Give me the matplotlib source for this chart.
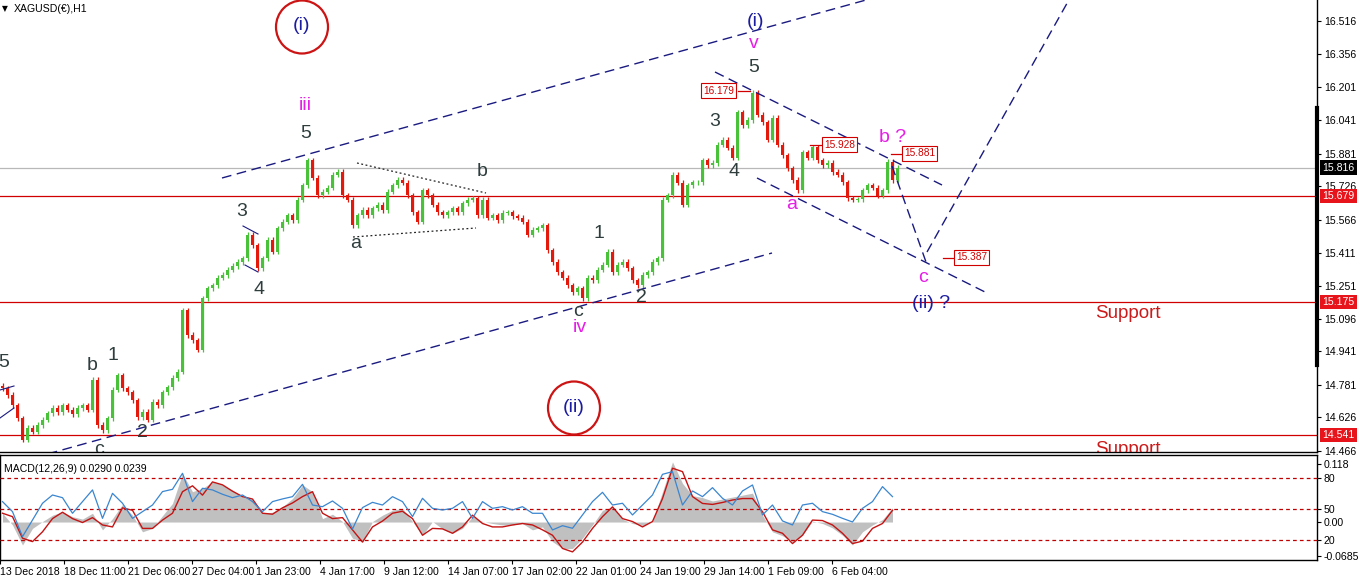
import numpy as np
import matplotlib
matplotlib.use('Agg')
import matplotlib.pyplot as plt
from matplotlib.patches import Ellipse
from matplotlib.transforms import blended_transform_factory

# ---------------- data ----------------
closes = [14.765, 14.732, 14.684, 14.622, 14.518, 14.575, 14.556, 14.589, 14.613, 14.646,
          14.670, 14.651, 14.684, 14.661, 14.641, 14.670, 14.684, 14.661, 14.804, 14.589,
          14.565, 14.622, 14.756, 14.827, 14.765, 14.746, 14.708, 14.627, 14.651, 14.613,
          14.699, 14.684, 14.746, 14.770, 14.813, 14.842, 15.137, 15.018, 14.994, 14.947,
          15.194, 15.242, 15.256, 15.290, 15.304, 15.328, 15.347, 15.366, 15.385, 15.495,
          15.447, 15.337, 15.385, 15.471, 15.414, 15.528, 15.557, 15.590, 15.566, 15.662,
          15.733, 15.852, 15.767, 15.685, 15.700, 15.719, 15.781, 15.795, 15.685, 15.662,
          15.542, 15.590, 15.614, 15.590, 15.623, 15.638, 15.614, 15.700, 15.733, 15.757,
          15.743, 15.685, 15.604, 15.557, 15.709, 15.685, 15.638, 15.604, 15.590, 15.604,
          15.623, 15.604, 15.647, 15.662, 15.671, 15.590, 15.662, 15.576, 15.590, 15.566,
          15.600, 15.604, 15.585, 15.576, 15.557, 15.495, 15.519, 15.528, 15.542, 15.423,
          15.366, 15.318, 15.290, 15.256, 15.223, 15.242, 15.194, 15.290, 15.280, 15.328,
          15.352, 15.414, 15.318, 15.352, 15.366, 15.337, 15.280, 15.256, 15.304, 15.318,
          15.366, 15.385, 15.662, 15.685, 15.781, 15.743, 15.638, 15.733, 15.747, 15.747,
          15.852, 15.828, 15.838, 15.924, 15.948, 15.910, 15.862, 16.081, 16.019, 16.043,
          16.172, 16.067, 16.033, 15.948, 16.053, 15.924, 15.876, 15.814, 15.757, 15.709,
          15.890, 15.862, 15.914, 15.852, 15.828, 15.838, 15.795, 15.781, 15.747, 15.671,
          15.662, 15.666, 15.709, 15.733, 15.719, 15.681, 15.709, 15.843, 15.757, 15.816]

price_ticks = [16.516, 16.356, 16.201, 16.041, 15.881, 15.726, 15.566, 15.411,
               15.251, 15.096, 14.941, 14.781, 14.626, 14.466]
support_levels = [15.679, 15.175, 14.541]
current_price = 15.816

date_labels = ["13 Dec 2018", "18 Dec 11:00", "21 Dec 06:00", "27 Dec 04:00",
               "1 Jan 23:00", "4 Jan 17:00", "9 Jan 12:00", "14 Jan 07:00",
               "17 Jan 02:00", "22 Jan 01:00", "24 Jan 19:00", "29 Jan 14:00",
               "1 Feb 09:00", "6 Feb 04:00"]

macd_hist = [0.018, -0.006, -0.047, -0.013, 0.001, 0.014, 0.021, 0.011, 0.006, 0.018,
             -0.016, 0.007, 0.036, 0.014, -0.020, -0.013, 0.013, 0.038, 0.099, 0.062,
             0.069, 0.082, 0.076, 0.065, 0.052, 0.046, 0.018, 0.020, 0.031, 0.048,
             0.076, 0.062, 0.007, 0.016, 0.001, -0.033, -0.040, 0.001, 0.014, 0.024,
             0.028, 0.001, -0.027, 0.001, -0.014, -0.023, -0.013, 0.011, 0.001, -0.003,
             -0.006, -0.006, -0.003, -0.016, -0.010, -0.040, -0.054, -0.054, -0.033, -0.006,
             0.024, 0.031, 0.006, -0.003, -0.007, 0.001, 0.062, 0.123, 0.079, 0.054,
             0.050, 0.043, 0.047, 0.051, 0.055, 0.059, 0.014, -0.020, -0.028, -0.040,
             -0.027, 0.002, -0.003, -0.012, -0.027, -0.047, -0.020, -0.006, 0.005, 0.029]

macd_signal = [0.018, 0.011, -0.033, -0.040, -0.020, 0.007, 0.020, 0.007, -0.001, 0.009,
               -0.006, -0.010, 0.029, 0.024, -0.013, -0.013, 0.004, 0.018, 0.062, 0.074,
               0.055, 0.082, 0.076, 0.063, 0.052, 0.047, 0.018, 0.016, 0.029, 0.039,
               0.052, 0.062, 0.018, 0.007, 0.009, -0.016, -0.041, -0.010, 0.002, 0.018,
               0.022, 0.007, -0.027, -0.013, -0.014, -0.023, -0.010, 0.014, -0.003, -0.010,
               -0.010, -0.006, -0.003, -0.006, -0.016, -0.027, -0.054, -0.061, -0.041, -0.013,
               0.011, 0.031, 0.007, 0.001, -0.010, 0.001, 0.048, 0.110, 0.103, 0.052,
               0.038, 0.036, 0.040, 0.045, 0.048, 0.048, 0.021, -0.016, -0.023, -0.044,
               -0.027, 0.004, 0.003, -0.006, -0.023, -0.044, -0.039, -0.013, -0.003, 0.0239]

osc_line = [56.8, 47.1, 22.9, 39.0, 55.2, 63.2, 60.6, 45.5, 56.8, 68.1,
            40.6, 64.8, 55.2, 40.6, 47.1, 53.5, 66.5, 68.7, 84.2, 56.8,
            69.7, 68.1, 63.9, 60.6, 63.2, 56.8, 47.1, 56.8, 59.4, 61.6,
            73.5, 53.5, 51.9, 57.4, 50.3, 30.3, 51.0, 56.1, 53.5, 61.6,
            56.8, 42.3, 60.0, 50.3, 48.7, 50.3, 56.8, 40.6, 56.8, 50.3,
            51.9, 48.7, 51.9, 45.5, 45.5, 29.4, 33.5, 31.0, 43.9, 56.8,
            65.8, 53.5, 55.2, 43.9, 53.5, 63.2, 83.2, 85.8, 53.5, 67.1,
            61.6, 70.3, 60.0, 53.5, 67.1, 72.9, 43.9, 53.5, 38.1, 34.2,
            53.5, 55.2, 47.1, 44.5, 40.6, 37.1, 50.3, 56.8, 71.3, 61.6]
osc_levels = [80, 50, 20]

macd_ticks = [0.118, 0.0, -0.0685]
macd_tick_labels = ["0.118", "0.00", "-0.0685"]

# ---------------- layout ----------------
W, H = 1360, 581
PW, PH = 1317, 452          # price panel size in px
PX_PER_BAR = 5
MACD_STEP = 2               # bars per MACD sample
AXFONT = 'Liberation Sans'
AXSIZE = 7.6
fig = plt.figure(figsize=(W / 100, H / 100), dpi=100)
fig.patch.set_facecolor('white')

ax = fig.add_axes([0, 1 - PH / H, PW / W, PH / H])
axm = fig.add_axes([0, 1 - 560 / H, PW / W, 105 / H], sharex=ax)

NAVY = '#1a1a80'
SLATE = '#2f3d3d'
MAG = '#e61ee6'
RED = '#d00000'

# ---------------- candles ----------------
c = np.array(closes)
o = np.concatenate([[c[0] + 0.01], c[:-1]])
x = np.arange(len(c))
wick = 0.012
hi = np.maximum(o, c) + wick
lo = np.minimum(o, c) - wick
up = c >= o
col = np.where(up, '#49c23a', '#e5180c')
ax.vlines(x, lo, hi, colors=col, lw=0.9, zorder=3)
ax.bar(x, c - o, bottom=o, width=0.5, color=col, lw=0, zorder=3)

ax.set_xlim(-0.5, PW / PX_PER_BAR - 0.5)
ax.set_ylim(16.615 - 0.004767 * PH, 16.615)

for lv in support_levels:
    ax.axhline(lv, color=RED, lw=0.9, zorder=2)
ax.axhline(current_price, color='#b8b8b8', lw=0.9, zorder=1)

ax.yaxis.tick_right()
ax.set_yticks(price_ticks)
ax.set_yticklabels([f"{v:.3f}" for v in price_ticks], family=AXFONT)
ax.tick_params(axis='y', direction='out', length=3, labelsize=AXSIZE, pad=2, width=0.8)
ax.tick_params(axis='x', bottom=False, labelbottom=False)
for s in ['top', 'left']:
    ax.spines[s].set_visible(False)
for s in ['right', 'bottom']:
    ax.spines[s].set_color('black')
    ax.spines[s].set_linewidth(1)

btr = blended_transform_factory(ax.transAxes, ax.transData)
ax.text(1.004, current_price, f"{current_price:.3f}", transform=btr, va='center', ha='left',
        fontsize=AXSIZE, family=AXFONT, color='white', zorder=6, clip_on=False,
        bbox=dict(boxstyle='square,pad=0.2', fc='black', ec='none'))
for lv in support_levels:
    ax.text(1.004, lv, f"{lv:.3f}", transform=btr, va='center', ha='left',
            fontsize=AXSIZE, family=AXFONT, color='white', zorder=6, clip_on=False,
            bbox=dict(boxstyle='square,pad=0.2', fc='#e8141b', ec='none'))

# ---------------- MACD panel ----------------
mx = np.arange(len(macd_hist)) * MACD_STEP
axm.fill_between(mx, 0, macd_hist, color='#c0c0c0', lw=0, zorder=1)
axm.plot(np.arange(len(macd_signal)) * MACD_STEP, macd_signal, color='#c41414', lw=1.0, zorder=3)
axm.set_ylim(-0.0776, 0.137)
for s in axm.spines.values():
    s.set_color('black')
    s.set_linewidth(1)

axr = axm.twinx()
axr.plot(np.arange(len(osc_line)) * MACD_STEP, osc_line, color='#3a86d0', lw=0.9, zorder=4)
for lv in osc_levels:
    axr.axhline(lv, color='#c00000', lw=0.9, ls=(0, (3, 2.5)), zorder=2)
axr.set_ylim(0.3, 101.9)
axr.set_yticks(osc_levels)
axr.set_yticklabels([str(v) for v in osc_levels], family=AXFONT)
axr.tick_params(axis='y', direction='out', length=3, labelsize=AXSIZE, pad=2, width=0.8)
for s in axr.spines.values():
    s.set_visible(False)

# MACD scale on the right too (twinx moved it left)
axm.yaxis.tick_right()
axm.set_yticks(macd_ticks)
axm.set_yticklabels(macd_tick_labels, family=AXFONT)
axm.tick_params(axis='y', direction='out', length=3, labelsize=AXSIZE, pad=2, width=0.8,
                left=False, labelleft=False, right=True, labelright=True)

tick_pos = [12.8 * k - 0.5 for k in range(len(date_labels))]
axm.set_xticks(tick_pos)
axm.set_xticklabels(date_labels, ha='left', family=AXFONT)
axm.tick_params(axis='x', direction='out', length=3, labelsize=AXSIZE, pad=2, width=0.8)
axm.set_xlim(-0.5, PW / PX_PER_BAR - 0.5)

axm.text(0.003, 0.87, "MACD(12,26,9) 0.0290 0.0239", transform=axm.transAxes,
         fontsize=AXSIZE, family=AXFONT, color='black', ha='left', va='center')

# ---------------- annotations (pixel placement helpers) ----------------
def pt(xp, yp):
    return xp / PW, 1 - yp / PH

def label(xp, yp, s, color=SLATE, size=14, **kw):
    ax.text(*pt(xp, yp), s, transform=ax.transAxes, ha='center', va='center',
            color=color, fontsize=size, family='Liberation Sans', clip_on=True, zorder=7, **kw)

def seg(xs, ys, **kw):
    ax.plot([v / PW for v in xs], [1 - v / PH for v in ys], transform=ax.transAxes,
            clip_on=True, zorder=5, **kw)

dash = dict(color=NAVY, lw=1.0, ls=(0, (7, 4)))
seg([222, 895], [178, -8], **dash)          # upper channel
seg([33, 772], [458, 253], **dash)          # lower channel
seg([715, 942], [72, 185], **dash)          # descending channel top
seg([757, 985], [178, 292], **dash)         # descending channel bottom
seg([892, 926], [166, 262], **dash)         # projection down
seg([927, 1070], [252, -2], **dash)         # projection up
dot = dict(color='#222222', lw=0.9, ls=(0, (1.5, 2)))
seg([357, 486], [163, 193], **dot)
seg([353, 476], [237, 228], **dot)
seg([243, 258], [226, 234], color=NAVY, lw=0.8)
seg([245, 258], [265, 272], color=NAVY, lw=0.8)
seg([0, 14], [390, 386], color=NAVY, lw=0.8)
seg([0, 14], [418, 408], color=NAVY, lw=0.8)

# circles
for cx, cy, s in [(302, 27, "(i)"), (574, 408, "(ii)")]:
    ax.add_patch(Ellipse(pt(cx, cy), 52 / PW, 53 / PH, transform=ax.transAxes,
                         fill=False, ec='#cc1414', lw=1.6, zorder=7, clip_on=False))
    label(cx, cy - 1, s, color='#1c1ca0', size=14)

label(305, 105, "iii", color=MAG)
label(306, 133, "5")
label(242, 211, "3")
label(259, 290, "4")
label(356, 244, "a")
label(482, 172, "b")
label(578, 312, "c")
label(580, 327, "iv", color=MAG)
label(599, 234, "1")
label(641, 298, "2")
label(715, 121, "3")
label(734, 172, "4")
label(754, 68, "5")
label(754, 44, "v", color=MAG)
label(756, 21, "(i)", color='#1c1ca0')
label(792, 204, "a", color=MAG)
label(893, 138, "b ?", color=MAG)
label(923, 278, "c", color=MAG)
label(931, 303, "(ii) ?", color='#1c1ca0')
label(92, 365, "b")
label(113, 356, "1")
label(99, 449, "c")
label(142, 432, "2")
label(4, 362, "5")
label(1128, 313, "Support", color='#cc1a1a', size=13.5)
label(1128, 449, "Support", color='#cc1a1a', size=13.5)

# boxed price tags
def tag(xl, yc, s, lx0, lx1):
    seg([lx0, lx1], [yc, yc], color=RED, lw=0.9)
    ax.text(*pt(xl, yc), s, transform=ax.transAxes, ha='left', va='center',
            fontsize=7.3, family=AXFONT, color=RED, zorder=8, clip_on=True,
            bbox=dict(boxstyle='square,pad=0.2', fc='white', ec=RED, lw=0.8))

tag(703, 90.5, "16.179", 738, 750)
tag(824, 144.5, "15.928", 810, 822)
tag(904, 153.5, "15.881", 891, 902)
tag(956, 257.5, "15.387", 943, 954)

# title
fig.text(5 / W, 1 - 9 / H, "\u25BC", fontsize=5.5, ha='center', va='center', color='black')
fig.text(14 / W, 1 - 9 / H, "XAGUSD(\u20ac),H1", fontsize=AXSIZE, family=AXFONT,
         ha='left', va='center', color='black')

# thick bar on the price axis
fig.add_artist(plt.Line2D([PW / W, PW / W], [1 - 108 / H, 1 - 365 / H],
                          transform=fig.transFigure, color='black', lw=3))

fig.savefig('out.png', dpi=100)
